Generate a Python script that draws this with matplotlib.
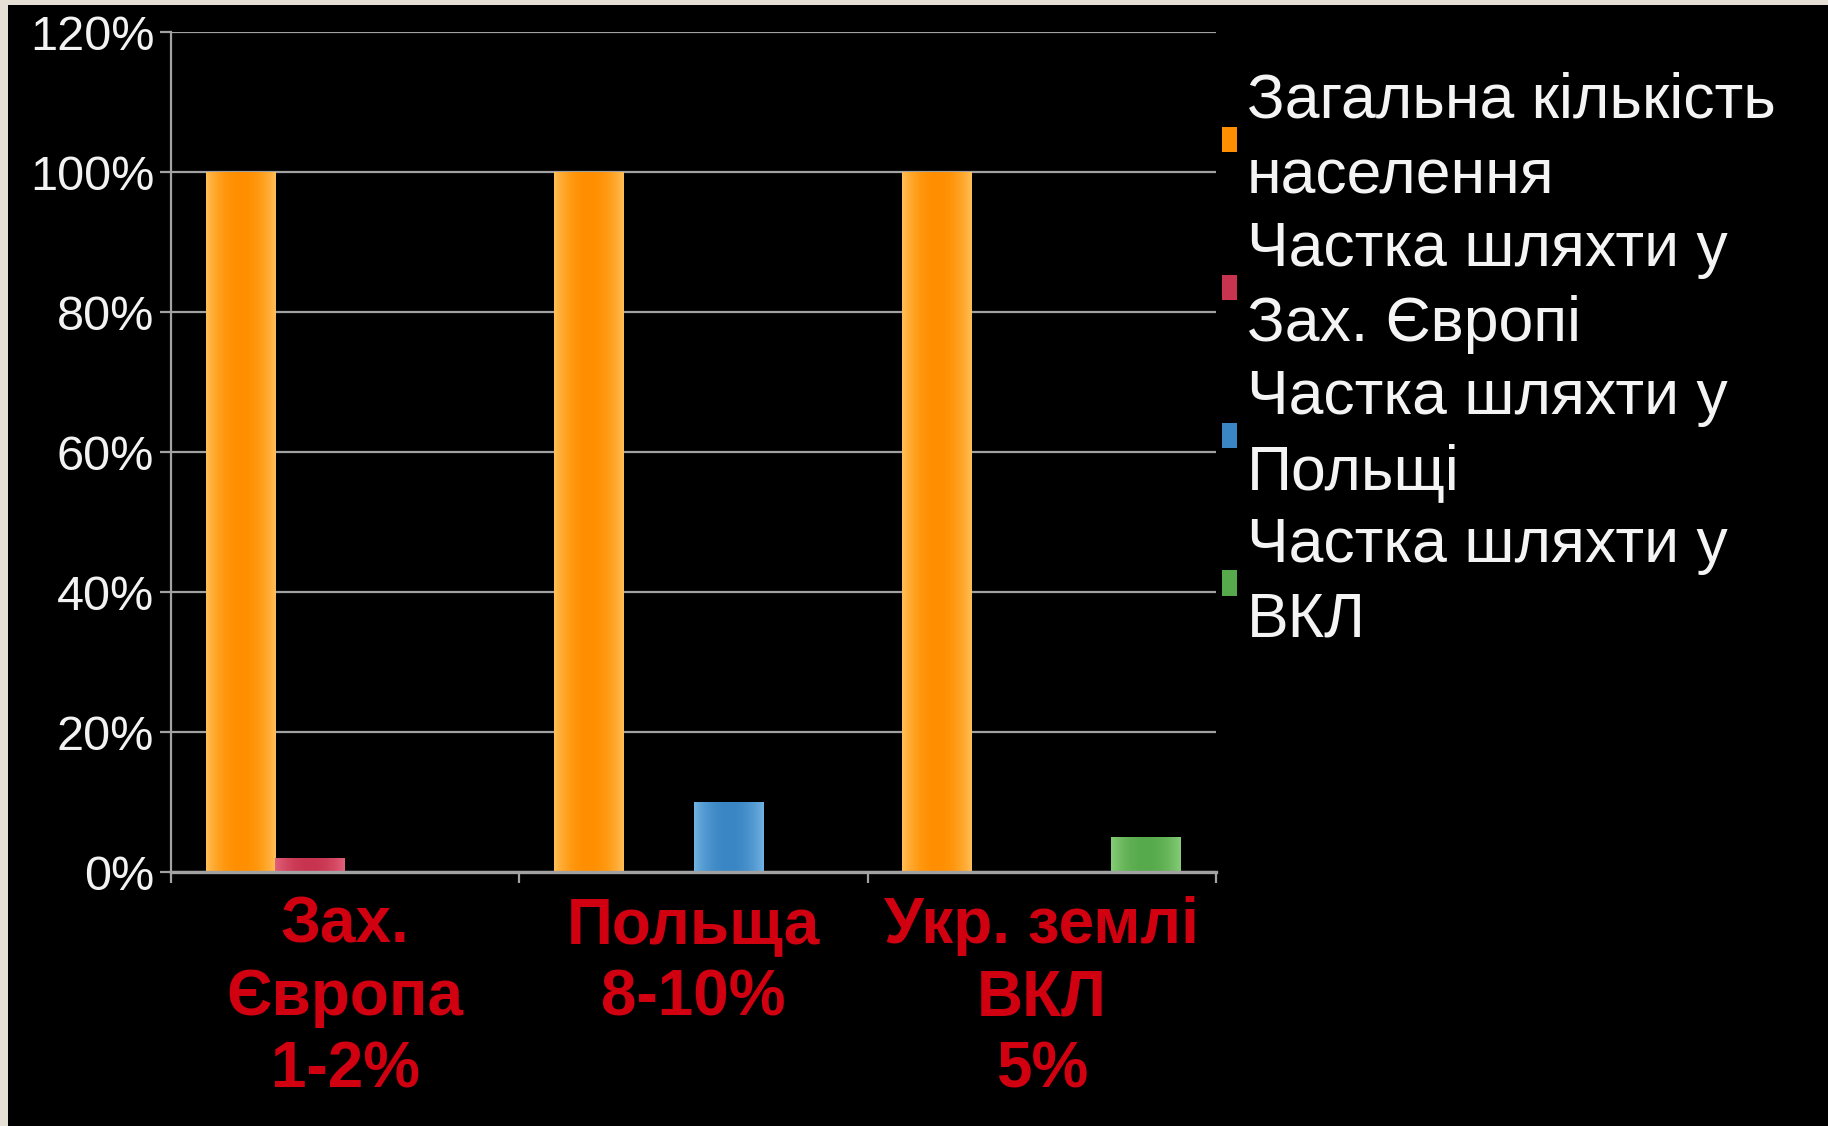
import numpy as np
import matplotlib
matplotlib.use("Agg")
import matplotlib.pyplot as plt
from matplotlib.patches import Rectangle
from matplotlib.colors import to_rgb

plt.rcParams['font.family'] = ['Liberation Sans', 'DejaVu Sans']

# data
categories = ["Зах.\nЄвропа\n1-2%", "Польща\n8-10%", "Укр. землі\nВКЛ\n5%"]
series_names = ["Загальна кількість\nнаселення",
                "Частка шляхти у\nЗах. Європі",
                "Частка шляхти у\nПольщі",
                "Частка шляхти у\nВКЛ"]
total = [100, 100, 100]
share_west = [2, 0, 0]
share_poland = [0, 10, 0]
share_vkl = [0, 0, 5]
yticks = [0, 20, 40, 60, 80, 100, 120]

base_colors = ["#FF8F00", "#C8344F", "#3A86C4", "#57AA4B"]
light_colors = ["#FFBE55", "#E2607A", "#70B2E2", "#86CC78"]

W, H = 1828, 1126
fig = plt.figure(figsize=(W / 100, H / 100), dpi=100, facecolor="#E5DFD5")
fig.add_artist(Rectangle((8 / W, 0), 1, (H - 5) / H, transform=fig.transFigure,
                         facecolor="black", edgecolor="none", zorder=0))

ax = fig.add_axes([171 / W, 254 / H, (1216 - 171) / W, (1094 - 254) / H])
ax.set_facecolor("black")
ax.set_axisbelow(True)

x = np.arange(len(categories))
width = 0.2
offsets = [-1.5, -0.5, 0.5, 1.5]
values = [total, share_west, share_poland, share_vkl]

containers = []
for vals, off, c, lc, name in zip(values, offsets, base_colors, light_colors, series_names):
    bars = ax.bar(x + off * width, vals, width, color=c, label=name, zorder=2)
    containers.append(bars)
    # soft horizontal shading inside each bar, like the old office charts
    t = np.abs(np.linspace(-1, 1, 64)) ** 2.2
    grad = (1 - t)[:, None] * np.array(to_rgb(c)) + t[:, None] * np.array(to_rgb(lc))
    grad = grad[None, :, :]
    for p in bars:
        if p.get_height() <= 0:
            continue
        im = ax.imshow(grad, extent=[p.get_x(), p.get_x() + p.get_width(), 0, p.get_height()],
                       aspect="auto", interpolation="bilinear", zorder=2.1)
        im.set_clip_path(p)

ax.set_xlim(-0.5, len(categories) - 0.5)
ax.set_ylim(0, 120)

grid_c = "#A2A2A2"
ax.set_yticks(yticks)
ax.set_yticklabels([f"{v}%" for v in yticks])
ax.yaxis.grid(True, color=grid_c, linewidth=1.6)
ax.tick_params(axis="y", colors=grid_c, length=8, width=1.6, pad=4,
               labelsize=35, labelcolor="#F2F2F2")

ax.set_xticks(np.arange(len(categories) + 1) - 0.5)
ax.set_xticklabels([])
ax.set_xticks(x, minor=True)
ax.set_xticklabels(categories, minor=True, fontsize=46, fontweight="bold",
                   color="#D00010", linespacing=1.27)
ax.tick_params(axis="x", which="major", colors=grid_c, length=8, width=1.6)
ax.tick_params(axis="x", which="minor", length=0, pad=17)

for s in ["top", "right"]:
    ax.spines[s].set_visible(False)
ax.spines["left"].set_color(grid_c)
ax.spines["left"].set_linewidth(1.6)
ax.spines["bottom"].set_color(grid_c)
ax.spines["bottom"].set_linewidth(2.4)

leg = ax.legend(handles=containers, loc="upper left",
                bbox_to_anchor=(1222 / W, 1 - 72 / H), bbox_transform=fig.transFigure,
                frameon=False, fontsize=45, handlelength=0.24, handleheight=0.24,
                handletextpad=0.16, labelspacing=0.22, borderpad=0, borderaxespad=0)
for txt in leg.get_texts():
    txt.set_color("#F4F4F4")
    txt.set_linespacing(1.35)

fig.savefig("out.png", dpi=100, facecolor=fig.get_facecolor())
